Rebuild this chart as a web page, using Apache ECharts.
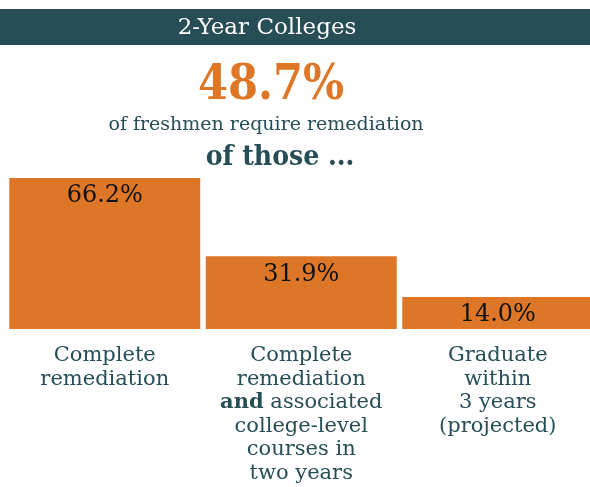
<!DOCTYPE html>
<html>
<head>
<meta charset="utf-8">
<script src="https://cdn.jsdelivr.net/npm/echarts@6/dist/echarts.min.js"></script>
<style>
html,body{margin:0;padding:0;background:#fff;}
#chart{width:590px;height:487px;}
</style>
</head>
<body>
<div id="chart"></div>
<script>
const headerTitle = "2-Year Colleges";
const headlineValue = "48.7%";
const headlineText = "of freshmen require remediation";
const subHead = "of those ...";
const categories = [
  "Complete\nremediation",
  "Complete\nremediation\n{b|and} associated\ncollege-level\ncourses in\ntwo years",
  "Graduate\nwithin\n3 years\n(projected)"
];
const values = [66.2, 31.9, 14.0];
const valueLabels = ["66.2%", "31.9%", "14.0%"];

const TEAL = "#274d57";
const ORANGE = "#dd7727";
const SERIF = "'DejaVu Serif', serif";
const COND = "'DejaVu Serif Condensed', 'DejaVu Serif', serif";

const chart = echarts.init(document.getElementById('chart'), null, {renderer: 'canvas'});
chart.setOption({
  animation: false,
  backgroundColor: '#fff',
  grid: {left: 6.5, width: 589.5, top: 101, bottom: 158, outerBoundsMode: 'none', containLabel: false},
  xAxis: {
    type: 'category',
    data: categories,
    axisLine: {show: false},
    axisTick: {show: false},
    axisLabel: {
      interval: 0,
      margin: 15,
      color: TEAL,
      fontFamily: SERIF,
      fontSize: 21,
      lineHeight: 23.5,
      align: 'center',
      rich: {
        b: {fontWeight: 'bold', fontFamily: SERIF, fontSize: 21, lineHeight: 23.5, color: TEAL}
      }
    }
  },
  yAxis: {
    type: 'value', min: 0, max: 100, show: false,
    splitLine: {show: false}
  },
  series: [{
    type: 'bar',
    data: values,
    barWidth: 191,
    itemStyle: {color: ORANGE},
    label: {
      show: true,
      position: 'insideTop',
      distance: 6,
      color: '#111',
      fontFamily: SERIF,
      fontSize: 24,
      formatter: p => valueLabels[p.dataIndex]
    }
  }],
  graphic: [
    {type: 'rect', shape: {x: 0, y: 9, width: 590, height: 36}, style: {fill: TEAL}, silent: true},
    {type: 'text', x: 267, y: 28, style: {text: headerTitle, fill: '#fff', font: "23px " + SERIF, textAlign: 'center', textVerticalAlign: 'middle'}},
    {type: 'text', x: 271, y: 87, style: {text: headlineValue, fill: ORANGE, font: "bold 48px " + COND, textAlign: 'center', textVerticalAlign: 'middle'}},
    {type: 'text', x: 266, y: 125, style: {text: headlineText, fill: TEAL, font: "19px " + SERIF, textAlign: 'center', textVerticalAlign: 'middle'}},
    {type: 'text', x: 280, y: 158, style: {text: subHead, fill: TEAL, font: "bold 28px " + COND, textAlign: 'center', textVerticalAlign: 'middle'}}
  ]
});
</script>
</body>
</html>
